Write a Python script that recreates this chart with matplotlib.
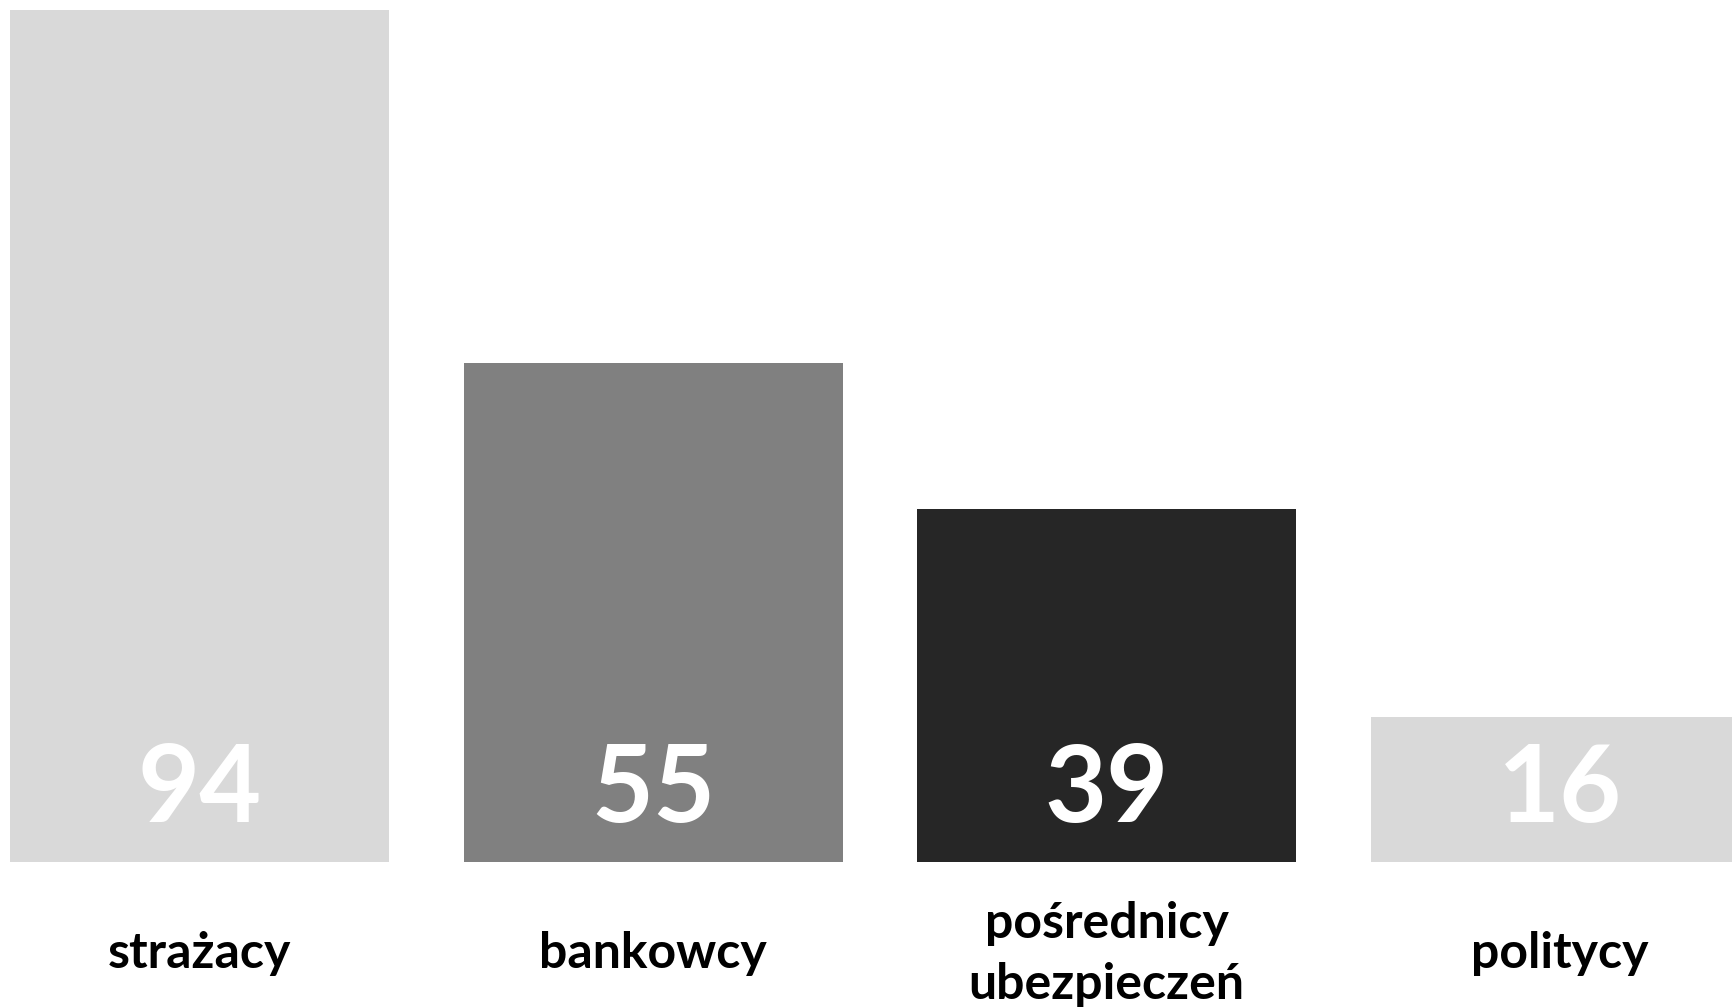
import matplotlib.pyplot as plt
from matplotlib import transforms

categories = ["strażacy", "bankowcy", "pośrednicy\nubezpieczeń", "politycy"]
values = [94, 55, 39, 16]
colors = ["#d9d9d9", "#808080", "#262626", "#d9d9d9"]

plt.rcParams["font.family"] = ["Lato", "DejaVu Sans"]

fig = plt.figure(figsize=(17.33, 10.08), dpi=100)
ax = fig.add_axes([0, 146 / 1008, 1, 852 / 1008])

x = range(len(values))
ax.bar(x, values, width=0.836, color=colors)
ax.set_xlim(-0.44, 3.381)
ax.set_ylim(0, 94)
ax.axis("off")

trans = transforms.blended_transform_factory(ax.transData, ax.transAxes)
for i, v in enumerate(values):
    ax.text(i, 40 / 852, str(v), transform=trans, ha="center", va="baseline",
            color="white", fontsize=77, fontweight="bold")
    ax.text(i, -92 / 852, categories[i], transform=trans, ha="center",
            va="center", color="black", fontsize=36, fontweight="bold",
            linespacing=1.43)

fig.savefig("out.png", dpi=100)
